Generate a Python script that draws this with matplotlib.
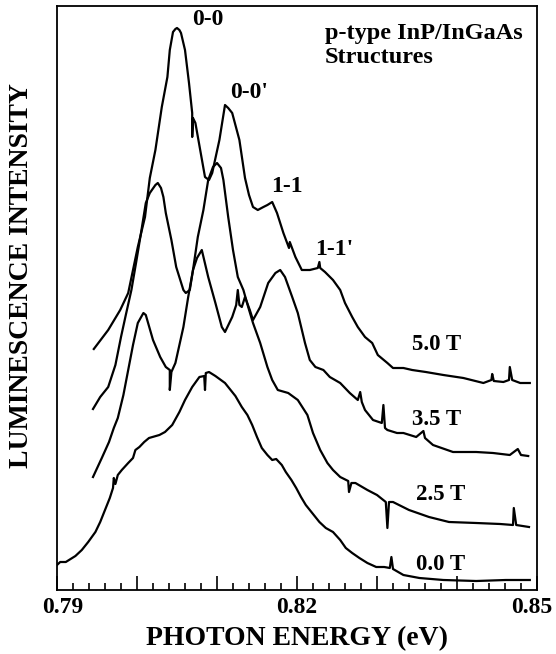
import matplotlib
matplotlib.use('Agg')
import matplotlib.pyplot as plt
import matplotlib.transforms as mtransforms
import numpy as np

# Magneto-luminescence spectra, p-type InP/InGaAs
# photon energy in eV, intensity in arbitrary units (curves already offset)
e_50 = [0.7946, 0.7964, 0.7979, 0.7989, 0.8001, 0.8010, 0.8016, 0.8023, 0.8031, 0.8038,
        0.8041, 0.8045, 0.8048, 0.8050, 0.8053, 0.8055, 0.8060, 0.8065, 0.8069, 0.8069,
        0.8070, 0.8073, 0.8079, 0.8085, 0.8090, 0.8094, 0.8103, 0.8110, 0.8114, 0.8119,
        0.8128, 0.8135, 0.8140, 0.8145, 0.8151, 0.8158, 0.8163, 0.8169, 0.8175, 0.8183,
        0.8190, 0.8191, 0.8198, 0.8206, 0.8216, 0.8226, 0.8228, 0.8229, 0.8235, 0.8245,
        0.8254, 0.8260, 0.8269, 0.8276, 0.8285, 0.8294, 0.8301, 0.8313, 0.8320, 0.8333,
        0.8344, 0.8361, 0.8383, 0.8408, 0.8433, 0.8443, 0.8444, 0.8446, 0.8458, 0.8465,
        0.8466, 0.8469, 0.8479, 0.8491]
i_50 = [241, 260, 280, 297, 343, 373, 412, 440, 483, 513,
        540, 558, 561, 562, 560, 557, 540, 507, 477, 453,
        472, 467, 440, 413, 410, 417, 450, 485, 482, 477,
        450, 412, 395, 383, 380, 383, 385, 388, 377, 357,
        342, 348, 333, 320, 320, 322, 328, 322, 318, 310,
        300, 287, 273, 263, 253, 247, 235, 227, 222, 222,
        220, 218, 215, 212, 207, 210, 216, 209, 208, 210,
        223, 210, 207, 207]

e_35 = [0.7945, 0.7956, 0.7965, 0.7971, 0.7976, 0.7983, 0.7989, 0.7995, 0.8001, 0.8008,
        0.8011, 0.8020, 0.8029, 0.8036, 0.8041, 0.8041, 0.8043, 0.8048, 0.8058, 0.8064,
        0.8070, 0.8075, 0.8081, 0.8089, 0.8098, 0.8106, 0.8110, 0.8119, 0.8124, 0.8126,
        0.8128, 0.8131, 0.8135, 0.8141, 0.8145, 0.8154, 0.8164, 0.8173, 0.8179, 0.8185,
        0.8194, 0.8201, 0.8210, 0.8216, 0.8223, 0.8233, 0.8241, 0.8254, 0.8266, 0.8276,
        0.8279, 0.8281, 0.8285, 0.8295, 0.8306, 0.8308, 0.8310, 0.8313, 0.8325, 0.8333,
        0.8349, 0.8358, 0.8360, 0.8370, 0.8395, 0.8424, 0.8445, 0.8466, 0.8476, 0.8480,
        0.8489]
i_35 = [113, 132, 148, 162, 172, 195, 220, 245, 267, 277,
        275, 250, 233, 223, 220, 200, 218, 227, 263, 293,
        320, 332, 340, 313, 287, 263, 258, 273, 285, 300,
        285, 283, 293, 280, 270, 283, 307, 317, 320, 313,
        293, 277, 247, 230, 223, 220, 213, 207, 197, 190,
        198, 188, 180, 170, 167, 185, 162, 160, 157, 157,
        153, 159, 152, 145, 138, 138, 137, 135, 141, 135,
        134]

e_25 = [0.7945, 0.7954, 0.7964, 0.7973, 0.7980, 0.7986, 0.7993, 0.7999, 0.8005, 0.8011,
        0.8016, 0.8023, 0.8026, 0.8030, 0.8033, 0.8036, 0.8043, 0.8049, 0.8058, 0.8061,
        0.8066, 0.8070, 0.8076, 0.8083, 0.8089, 0.8095, 0.8100, 0.8105, 0.8108, 0.8114,
        0.8120, 0.8126, 0.8133, 0.8139, 0.8145, 0.8154, 0.8163, 0.8169, 0.8176, 0.8189,
        0.8201, 0.8213, 0.8220, 0.8229, 0.8238, 0.8245, 0.8254, 0.8264, 0.8265, 0.8268,
        0.8273, 0.8288, 0.8300, 0.8311, 0.8313, 0.8315, 0.8320, 0.8340, 0.8365, 0.8390,
        0.8424, 0.8454, 0.8470, 0.8471, 0.8474, 0.8490]
i_25 = [181, 193, 203, 225, 253, 275, 300, 328, 357, 387,
        397, 405, 407, 402, 393, 377, 350, 323, 300, 297,
        300, 320, 353, 380, 410, 423, 427, 422, 410, 373,
        340, 313, 300, 283, 267, 247, 223, 210, 200, 197,
        190, 175, 157, 140, 127, 120, 113, 109, 98, 107,
        107, 100, 95, 88, 62, 88, 88, 80, 73, 68,
        67, 66, 65, 82, 65, 63]

e_00 = [0.7900, 0.7904, 0.7911, 0.7915, 0.7923, 0.7931, 0.7939, 0.7948, 0.7954, 0.7961,
        0.7966, 0.7970, 0.7971, 0.7973, 0.7976, 0.7981, 0.7989, 0.7995, 0.7998, 0.8003,
        0.8009, 0.8015, 0.8028, 0.8035, 0.8044, 0.8053, 0.8060, 0.8069, 0.8078, 0.8084,
        0.8085, 0.8086, 0.8090, 0.8098, 0.8110, 0.8123, 0.8131, 0.8138, 0.8144, 0.8150,
        0.8156, 0.8163, 0.8169, 0.8174, 0.8181, 0.8186, 0.8193, 0.8199, 0.8205, 0.8211,
        0.8219, 0.8228, 0.8236, 0.8245, 0.8254, 0.8261, 0.8269, 0.8278, 0.8288, 0.8299,
        0.8309, 0.8316, 0.8318, 0.8320, 0.8333, 0.8353, 0.8383, 0.8424, 0.8461, 0.8491]
i_00 = [25, 28, 28, 30, 34, 40, 48, 58, 68, 82,
        92, 102, 112, 106, 115, 120, 127, 132, 140, 143,
        148, 152, 155, 158, 165, 178, 190, 203, 213, 214,
        200, 217, 218, 214, 207, 194, 183, 175, 165, 153,
        142, 135, 130, 131, 125, 118, 110, 102, 93, 85,
        77, 68, 62, 58, 50, 42, 37, 32, 27, 23,
        23, 22, 33, 21, 15, 12, 10, 9, 10, 10]

major_ticks = [0.79, 0.80, 0.81, 0.82, 0.83, 0.84, 0.85]
tick_labels = ['0.79', '', '', '0.82', '', '', '0.85']
peak_labels = ['0-0', "0-0'", '1-1', "1-1'"]
field_labels = ['5.0 T', '3.5 T', '2.5 T', '0.0 T']

plt.rcParams['font.family'] = 'Liberation Serif'
plt.rcParams['font.weight'] = 'bold'

fig = plt.figure(figsize=(5.56, 6.54), dpi=100)
ax = fig.add_axes([57 / 556, 64 / 654, 480 / 556, 584 / 654])

for e, i in [(e_50, i_50), (e_35, i_35), (e_25, i_25), (e_00, i_00)]:
    ax.plot(e, i, color='black', lw=1.6)

ax.set_xlim(0.79, 0.85)
ax.set_ylim(0, 584)
ax.set_xticks(major_ticks)
ax.set_xticklabels(tick_labels)
ax.set_xticks(np.arange(0.79, 0.8501, 0.002), minor=True)
ax.tick_params(axis='x', which='major', direction='in', length=10, width=1.2,
               labelsize=17, pad=5)
ax.tick_params(axis='x', which='minor', direction='in', length=5, width=1.2)
ax.set_yticks([])
for s in ax.spines.values():
    s.set_linewidth(1.3)

# nudge the end labels inward like on the scan
lbls = ax.get_xticklabels()
lbls[0].set_transform(lbls[0].get_transform() +
                      mtransforms.ScaledTranslation(6 / 100, 0, fig.dpi_scale_trans))
lbls[-1].set_transform(lbls[-1].get_transform() +
                       mtransforms.ScaledTranslation(-5 / 100, 0, fig.dpi_scale_trans))

ax.set_xlabel('PHOTON ENERGY (eV)', fontsize=20, fontweight='bold')
ax.xaxis.set_label_coords(0.5, -0.062)
ax.set_ylabel('LUMINESCENCE INTENSITY', fontsize=20, fontweight='bold')
ax.yaxis.set_label_coords(-0.048, 0.538)

# peak assignments
ax.text(0.8088, 565, peak_labels[0], fontsize=17, ha='center', va='baseline')
ax.text(0.8140, 492, peak_labels[1], fontsize=17, ha='center', va='baseline')
ax.text(0.8188, 398, peak_labels[2], fontsize=17, ha='center', va='baseline')
ax.text(0.8247, 335, peak_labels[3], fontsize=17, ha='center', va='baseline')

# magnetic field of each trace
ax.text(0.8375, 240, field_labels[0], fontsize=16.5, ha='center', va='baseline')
ax.text(0.8374, 165, field_labels[1], fontsize=16.5, ha='center', va='baseline')
ax.text(0.8380, 90, field_labels[2], fontsize=16.5, ha='center', va='baseline')
ax.text(0.8379, 20, field_labels[3], fontsize=16.5, ha='center', va='baseline')

ax.text(0.8235, 551, 'p-type InP/InGaAs', fontsize=17.5, ha='left', va='baseline')
ax.text(0.8235, 527, 'Structures', fontsize=17.5, ha='left', va='baseline')

fig.savefig('out.png', dpi=100)
